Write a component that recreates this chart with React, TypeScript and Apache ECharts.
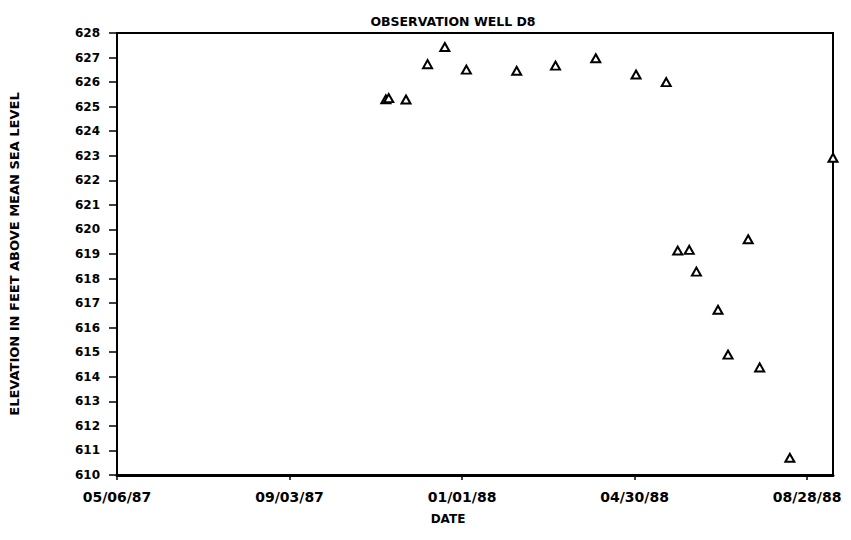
import React, { useEffect, useRef } from "react";
import * as echarts from "echarts";

const titleText = "OBSERVATION WELL D8";
const xAxisName = "DATE";
const yAxisName = "ELEVATION IN FEET ABOVE MEAN SEA LEVEL";
const startDate = "1987-05-06";
const endDate = "1988-09-15";
const tickDays = 120;

const sampleDates = [
  "1987-11-09", "1987-11-11", "1987-11-23", "1987-12-08", "1987-12-20",
  "1988-01-04", "1988-02-08", "1988-03-06", "1988-04-03", "1988-05-01",
  "1988-05-22", "1988-05-30", "1988-06-07", "1988-06-12", "1988-06-27",
  "1988-07-04", "1988-07-18", "1988-07-26", "1988-08-16", "1988-09-15",
];
const elevations = [
  625.3, 625.35, 625.29, 626.73, 627.43,
  626.51, 626.46, 626.67, 626.97, 626.31,
  626.0, 619.14, 619.17, 618.28, 616.73,
  614.9, 619.6, 614.38, 610.7, 622.92,
];
const yMin = 610;
const yMax = 628;

const DAY = 86400000;
function toUTC(s: string) {
  const [y, m, d] = s.split("-").map(Number);
  return Date.UTC(y, m - 1, d);
}
const t0 = toUTC(startDate);
function dayNum(s: string) {
  return Math.round((toUTC(s) - t0) / DAY);
}
function fmtDay(v: number) {
  const dt = new Date(t0 + v * DAY);
  const mm = String(dt.getUTCMonth() + 1).padStart(2, "0");
  const dd = String(dt.getUTCDate()).padStart(2, "0");
  const yy = String(dt.getUTCFullYear() % 100).padStart(2, "0");
  return `${mm}/${dd}/${yy}`;
}

const FONT = "DejaVu Sans";

export default function App() {
  const ref = useRef<HTMLDivElement>(null);
  useEffect(() => {
    if (!ref.current) return;
    const chart = echarts.init(ref.current, null, { renderer: "svg" });
    const data = sampleDates.map((d, i) => [dayNum(d), elevations[i]]);
    chart.setOption({
      animation: false,
      backgroundColor: "#fff",
      grid: {
        left: 117,
        right: 18,
        top: 33,
        bottom: 65,
        show: true,
        borderColor: "#000",
        borderWidth: 2,
        containLabel: false,
      },
      title: {
        text: titleText,
        left: 448,
        top: 10,
        textAlign: "center",
        textStyle: { fontFamily: FONT, fontWeight: "bold", fontSize: 12.5, color: "#000" },
      },
      graphic: [
        {
          type: "text",
          x: 448,
          y: 519,
          style: {
            text: xAxisName,
            fontFamily: FONT,
            fontWeight: "bold",
            fontSize: 12,
            fill: "#000",
            align: "center",
            verticalAlign: "middle",
          },
        },
      ],
      xAxis: {
        type: "value",
        min: 0,
        max: dayNum(endDate),
        interval: tickDays,
        splitLine: { show: false },
        axisLine: { show: true, lineStyle: { color: "#000", width: 3 } },
        axisTick: { show: true, length: 5, lineStyle: { color: "#000", width: 1.5 } },
        axisLabel: {
          showMaxLabel: false,
          margin: 15,
          fontFamily: FONT,
          fontWeight: "bold",
          fontSize: 14,
          color: "#000",
          formatter: (v: number) => (v % tickDays === 0 ? fmtDay(v) : ""),
        },
      },
      yAxis: {
        type: "value",
        min: yMin,
        max: yMax,
        interval: 1,
        name: yAxisName,
        nameLocation: "middle",
        nameGap: 96,
        nameTextStyle: { fontFamily: FONT, fontWeight: "bold", fontSize: 13, color: "#000" },
        splitLine: { show: false },
        axisLine: { show: true, lineStyle: { color: "#000", width: 2 } },
        axisTick: { show: true, length: 8, lineStyle: { color: "#000", width: 1.5 } },
        axisLabel: {
          margin: 17,
          fontFamily: FONT,
          fontWeight: "bold",
          fontSize: 12,
          color: "#000",
        },
      },
      series: [
        {
          type: "scatter",
          data,
          symbol: "triangle",
          symbolSize: [9, 8],
          clip: false,
          itemStyle: { color: "#fff", borderColor: "#000", borderWidth: 2, opacity: 1 },
        },
      ],
    });
    return () => chart.dispose();
  }, []);
  return (
    <div
      ref={ref}
      style={{ position: "absolute", left: 0, top: 0, width: 851, height: 540, background: "#fff" }}
    />
  );
}
